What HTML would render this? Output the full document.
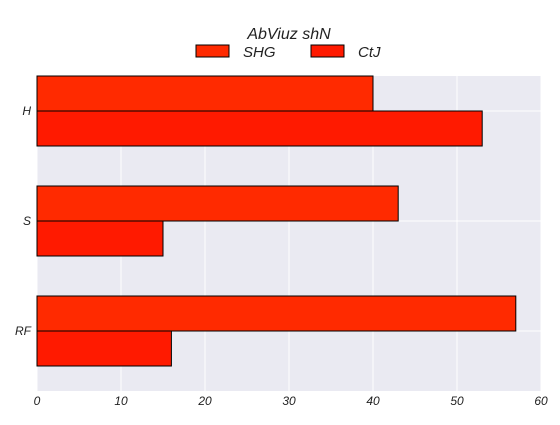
<!DOCTYPE html>
<html><head><meta charset="utf-8"><style>
body{margin:0;background:#fff;font-family:"Liberation Sans",sans-serif}
text{font-family:"Liberation Sans",sans-serif;font-style:italic}
</style></head><body>
<svg id="c" width="560" height="420"></svg>
<script>
const categories=["H","S","RF"];
const seriesNames=["SHG","CtJ"];
const shgValues=[40,43,57];
const ctjValues=[53,15,16];
const xTicks=[0,10,20,30,40,50,60];
const colors=["#ff2a00","#ff1a00"];
const svg=document.getElementById('c');
const NS="http://www.w3.org/2000/svg";
const L=37,R=541,T=76,B=391;
const xs=v=>L+(v-0)/(60-0)*(R-L);
const yc=i=>111+i*110;
function el(t,a,p){const e=document.createElementNS(NS,t);for(const k in a)e.setAttribute(k,a[k]);(p||svg).appendChild(e);return e;}
const bg=el('rect',{x:L,y:T,width:R-L,height:B-T,fill:'#eaeaf2'});


xTicks.forEach(t=>{
 const g=el('line',{x1:xs(t),x2:xs(t),y1:T,y2:B,stroke:'#fff','stroke-width':1});
 
 
 const tx=el('text',{x:xs(t),y:405,'text-anchor':'middle','font-size':12,fill:'#222'});
 tx.textContent=t;
 
 
});
categories.forEach((c,i)=>{
 const g=el('line',{x1:L,x2:R,y1:yc(i),y2:yc(i),stroke:'#fff','stroke-width':1});
 
 
 const tx=el('text',{x:31,y:yc(i)+4,'text-anchor':'end','font-size':12,fill:'#222'});
 tx.textContent=c;
 
 
});
[shgValues,ctjValues].forEach((vals,s)=>{
 vals.forEach((v,i)=>{
  const y=yc(i)-35+s*35;
  const r=el('rect',{x:xs(0),y:y,width:xs(v)-xs(0),height:35,fill:colors[s],stroke:'#000','stroke-width':1});
  
  
 });
});
const title=el('text',{x:289,y:39,'text-anchor':'middle','font-size':16,fill:'#222'});
title.textContent="AbViuz shN";


const lx=[196,311];
seriesNames.forEach((n,s)=>{
 const r=el('rect',{x:lx[s],y:45,width:33,height:12,fill:colors[s],stroke:'#000','stroke-width':1});
 
 
 const t=el('text',{x:lx[s]+47,y:57,'font-size':15,fill:'#222'});
 t.textContent=n;
 
 
});
</script>
</body></html>
